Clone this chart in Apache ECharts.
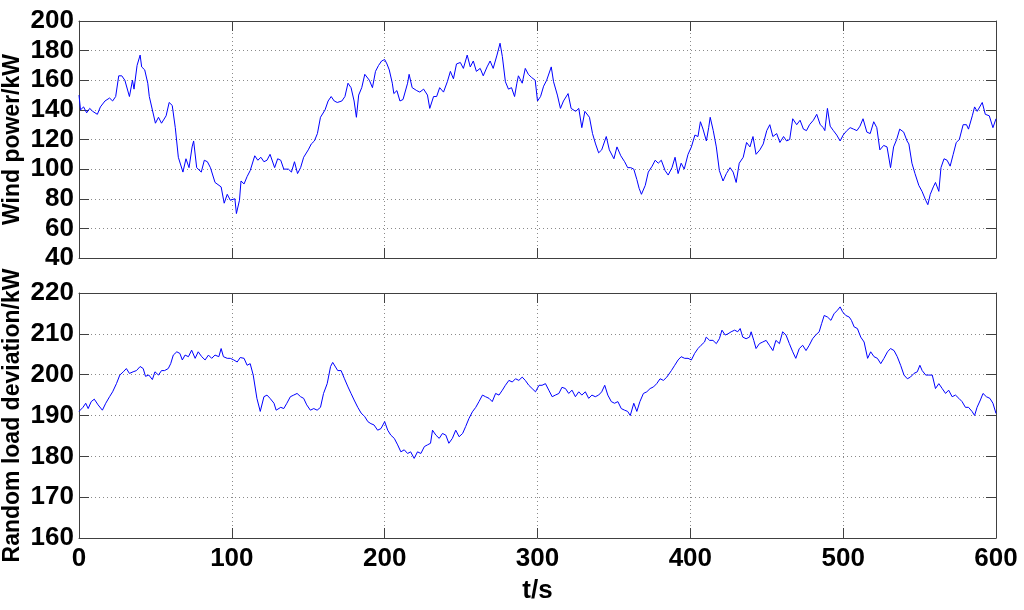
<!DOCTYPE html>
<html>
<head>
<meta charset="utf-8">
<script src="https://cdn.jsdelivr.net/npm/echarts@6/dist/echarts.min.js"></script>
<style>html,body{margin:0;padding:0;background:#fff;}#c{width:1024px;height:610px;}</style>
</head>
<body>
<div id="c"></div>
<script>
// ---- data ----
var windT = [0,1,3,5,7,9,12,14,17,20,22,24,26,28,30,33,35,36,38,40,41,43,45,46,48,50,52,54,57,59,61,63,65,68,70,72,74,75,77,80,82,84,86,89,93,95,97,99,102,103,105,106,108,110,112,115,117,119,121,123,125,128,130,132,134,137,139,141,143,145,147,150,152,154,156,158,161,163,165,167,169,172,174,176,178,180,181.5,183,185,187,190,192,194,196,198,200,201.5,203,205,206,208,210,212,215,216,218,221,223,225.5,228,229.5,232,234,236,238.5,241,243,245,247,249.5,251.5,254,256,258,260,262.5,264.5,267,269,271,273.5,275.5,277,279,281,283,285,286.5,287.5,290,292,294,296,298.5,300,302,304,306,309,310.5,313,315,317,320,322,325,327,329,331,334,336,338,340,342,345,347,350,352,354.5,357,359,361,363,365,366.5,368,370.5,372.5,375,377,379,381,383.5,385.5,388,390,392,394,396,398.5,400.7,403,405,406.6,408.3,410.5,412,413,415,417,419,421.4,423.6,426,428,430,432,434.6,436.8,439,441,443,445.5,447.7,450,452,454,456.5,458.6,461,463,465,467,469.6,471.8,474,476,478,480.5,482.7,485,487,488,489.7,491.5,493.6,495.8,498,500,502.4,504.6,506.8,509,511,513,515.5,517.7,520,522,524,526.5,528.7,531,533,535,537,539.6,541.8,543,545,547,549.5,551.6,554,555.4,557,559,560.4,562.6,564,566,568,570,572,574,576,578.5,580.7,582,584.5,586,587.7,591,593,595.6,598,600];
var windP = [150,140,142,138,141,139,137,142,146,148,146,149,163,163,160,149,160,154,170,177,169,167,158,149,140,131,135,131,136,145,143,128,108,98,107,101,115,119,101,98,106,105,101,91,88,77,83,79,80,70,79,92,90,95,99,109,106,108,105,106,110,101,107,106,100,100,98,105,97,101,108,113,117,119,124,135,140,146,149,146,145,146,149,158,155,146,135,150,155,164,160,155,166,170,173,174,171,167,158,151,153,146,147,158,164,155,153,152,154,150,141,149,149,155,152,159,166,161,171,172,168,177,169,173,166,168,163,169,173,168,177,185,176,159,154,155,149,158,163,158,168,164,162,160,146,149,156,160,169,159,150,141,146,151,141,139,141,128,139,135,124,117,111,113,122,113,107,115,109,105,101,101,100,93,87,83,89,98,102,106,104,106,99,96,101,108,97,104,100,110,115,123,122,132,127,119,128,135,126,115,99,92,97,101,98,91,104,108,118,115,122,110,113,117,126,130,122,124,118,122,119,120,134,130,133,127,126,130,133,137,130,128,126,141,129,126,123,119,123,126,128,127,126,129,134,125,124,132,128,113,116,115,101,115,120,127,125,119,117,104,97,89,85,79,76,83,88,91,85,101,107,106,102,110,118,120,130,130,127,136,142,139,145,137,136,128,134];

var loadT = [0,2.6,4.4,6,8,10,12.5,15.3,17.5,20,22,24.5,26.7,29,31,33,35.4,37.6,40,42,43.5,45.7,48,49.7,52,54,56,58.4,60,61.7,64,66,67.6,69.4,71.6,73.7,76,78,80.3,82.5,84.7,86.8,89,91.5,93,94.5,97,99,101.3,103.5,105.5,108,110,112,114,116.4,118.6,121,123,125,127.6,129,132,134,136,138.3,140.5,142.7,145,147,149,151.4,153.6,155.8,158,160,162.4,164.6,166,169.3,171.5,173.7,176,178,180,182.4,184.6,187,189,191,193,195.4,197.6,200,202,204,206.3,208.5,210.6,212.8,215,217,219.3,221.5,223.7,226,228,230,231.3,233.5,235.7,237.8,240,242,244.3,246.5,248.7,251,253,255.2,257.4,259.6,261.7,264,266,268.3,270.4,272.6,274.8,277,279,281.3,283.5,285.6,287.8,290,292,294.3,296.5,298.7,301,303,305.2,307.4,309.6,311.7,314,316,318.3,320.4,322.6,324.8,327,329,331.3,333.5,335.6,337.8,340,342,344,346,348.3,350.4,352.6,354.8,357,359,360.7,363,365,367,369.3,371.5,373.7,375.9,378,380.2,382.4,384.6,387.6,389.8,392,394,396.3,398.5,400.7,402.8,405,407,409.3,410.4,412.6,414.8,417,419,420.7,422.8,424.6,426.7,429,431,432.6,434.3,436.5,438.7,439.8,441.5,443,445.2,447.4,449.6,451.7,454,456,458.3,460.4,462.6,464.8,467,469,471.3,473.5,475.7,477.8,480,482,484.3,485.9,487.6,489.8,492,494,496.3,498,499.6,501.7,504,505.4,507.2,509.3,511.5,513.7,516,518,520.2,522.4,524.6,526.7,529,531,533.3,535.4,537.6,539.8,542,544,546.3,548.5,550.2,551.7,554,556,558.3,560.4,562.6,564.8,567,569,571.3,573.5,575.7,577.8,580,582,584.3,586,587.6,589.8,591.5,593.7,596,598,600];
var loadP = [191,192,193,191.7,193.4,194,192.6,191.3,193,194.6,195.8,197.8,199.9,200.7,201.5,200.3,200.7,201,202,201.5,199.6,199.9,198.8,200.7,199.9,201,201,201.5,202.7,204.8,205.6,205.2,203.6,204.8,204.4,206,204,205.6,204.4,203.6,204.8,204,204.8,204.4,206.4,204.4,204,204,203.6,203.1,204.2,204,202.3,202.7,199.9,194.2,191,194.6,195,194.2,193,191.3,192,191.7,193,194.6,195,195.4,194.6,194.2,192.6,191.3,191.7,191.3,192,195.4,197.8,202,203,201,201,199,197,195.4,193.8,192,190.6,189.7,188.5,188,187.7,186.4,186.8,188.5,186.4,185.2,184.4,182.8,181.1,181.6,180.7,181.1,179.5,181.1,180.7,182.4,182.8,183.2,186.4,185.2,184.4,185.6,185.2,183.2,184.4,186.4,184.8,185.6,187.3,189.3,190.9,192,193.4,195,194.6,194.2,193.4,195.4,195,196.2,197.4,198.6,198.2,199,198.6,199.4,198.6,197.4,196.6,195.8,197.4,197.4,197.8,196.2,194.6,195,195.4,196.9,196.6,195.4,196.2,194.6,195.8,195,195.8,194.2,195,194.6,195,195.8,197.4,195,193.4,193,193.4,191.7,191.3,191,190,193,191,193.4,195.4,195.8,196.6,197,197.8,199,198.6,199.4,201,202.3,203.6,204.4,204,204,203.6,205.2,206.4,207.2,208,209.2,208.4,208.4,207.6,208.8,210.9,209.7,210,210.5,210.9,210.5,211.3,209.2,208.8,209.2,210.5,208.4,206.4,207.6,208,208.4,207.2,205.9,208.4,207.6,210.5,209.7,207.6,205.6,204,206.4,207.2,205.9,207.2,208.8,209.7,210.5,212.5,214.5,214.1,213.3,214.9,215.8,216.6,215.4,214.5,214.1,213.3,211.7,211.3,209.2,208,204,205.6,204.4,204,202.7,204,205.6,206.4,205.9,204.4,202.3,199.9,199,199.4,200.3,200.7,202.3,201,199.9,199.9,199.9,196.6,197.8,196.6,195.4,196.2,194.6,195,194.2,193.4,192,192,191,190,192,193.8,195.4,194.6,194.2,193,190.5];

var xTicks = [0,100,200,300,400,500,600];
var windTicks = [40,60,80,100,120,140,160,180,200];
var loadTicks = [160,170,180,190,200,210,220];

function pairs(t, v){ var o=[]; for (var i=0;i<t.length;i++) o.push([t[i], v[i]]); return o; }

var FONT = 'Liberation Sans, Arial, sans-serif';
var axisColor = '#404040';
var gridLine = { show: true, lineStyle: { color: '#8a8a8a', type: [1, 3], width: 1 } };

function xAxisPair(gridIndex, showLabels, name){
  return [{
    type: 'value', gridIndex: gridIndex, position: 'bottom',
    min: xTicks[0], max: xTicks[xTicks.length-1], interval: xTicks[1]-xTicks[0],
    axisLine: { show: true, onZero: false, lineStyle: { color: axisColor, width: 1 } },
    axisTick: { show: true, inside: true, length: 10, lineStyle: { color: axisColor } },
    axisLabel: { show: showLabels, color: '#000', fontSize: 26, fontWeight: 'bold', fontFamily: FONT, margin: 8 },
    splitLine: gridLine,
    name: name, nameLocation: 'middle', nameGap: 40, nameMoveOverlap: false,
    nameTextStyle: { color: '#000', fontSize: 26, fontWeight: 'bold', fontFamily: FONT }
  }, {
    type: 'value', gridIndex: gridIndex, position: 'top',
    min: xTicks[0], max: xTicks[xTicks.length-1], interval: xTicks[1]-xTicks[0],
    axisLine: { show: true, onZero: false, lineStyle: { color: axisColor, width: 1 } },
    axisTick: { show: true, inside: true, length: 10, lineStyle: { color: axisColor } },
    axisLabel: { show: false }, splitLine: { show: false }
  }];
}
function yAxisPair(gridIndex, ticks, name){
  return [{
    type: 'value', gridIndex: gridIndex, position: 'left',
    min: ticks[0], max: ticks[ticks.length-1], interval: ticks[1]-ticks[0],
    axisLine: { show: true, onZero: false, lineStyle: { color: axisColor, width: 1 } },
    axisTick: { show: true, inside: true, length: 10, lineStyle: { color: axisColor } },
    axisLabel: { color: '#000', fontSize: 26, fontWeight: 'bold', fontFamily: FONT, margin: 5 },
    splitLine: gridLine,
    name: name, nameLocation: 'middle', nameGap: 55, nameMoveOverlap: false,
    nameTextStyle: { color: '#000', fontSize: 23, fontWeight: 'bold', fontFamily: FONT }
  }, {
    type: 'value', gridIndex: gridIndex, position: 'right',
    min: ticks[0], max: ticks[ticks.length-1], interval: ticks[1]-ticks[0],
    axisLine: { show: true, onZero: false, lineStyle: { color: axisColor, width: 1 } },
    axisTick: { show: true, inside: true, length: 10, lineStyle: { color: axisColor } },
    axisLabel: { show: false }, splitLine: { show: false }
  }];
}

var chart = echarts.init(document.getElementById('c'), null, { renderer: 'canvas' });
chart.setOption({
  backgroundColor: '#fff',
  animation: false,
  grid: [
    { left: 79, right: 28, top: 21, height: 237, containLabel: false, outerBoundsMode: 'none' },
    { left: 79, right: 28, top: 293, height: 245, containLabel: false, outerBoundsMode: 'none' }
  ],
  xAxis: xAxisPair(0, false, '').concat(xAxisPair(1, true, 't/s')),
  yAxis: yAxisPair(0, windTicks, 'Wind power/kW').concat(yAxisPair(1, loadTicks, 'Random load deviation/kW')),
  series: [
    { type: 'line', xAxisIndex: 0, yAxisIndex: 0, data: pairs(windT, windP), showSymbol: false, symbol: 'none',
      lineStyle: { color: '#0000ff', width: 1 } },
    { type: 'line', xAxisIndex: 2, yAxisIndex: 2, data: pairs(loadT, loadP), showSymbol: false, symbol: 'none',
      lineStyle: { color: '#0000ff', width: 1 } }
  ]
});
</script>
</body>
</html>
